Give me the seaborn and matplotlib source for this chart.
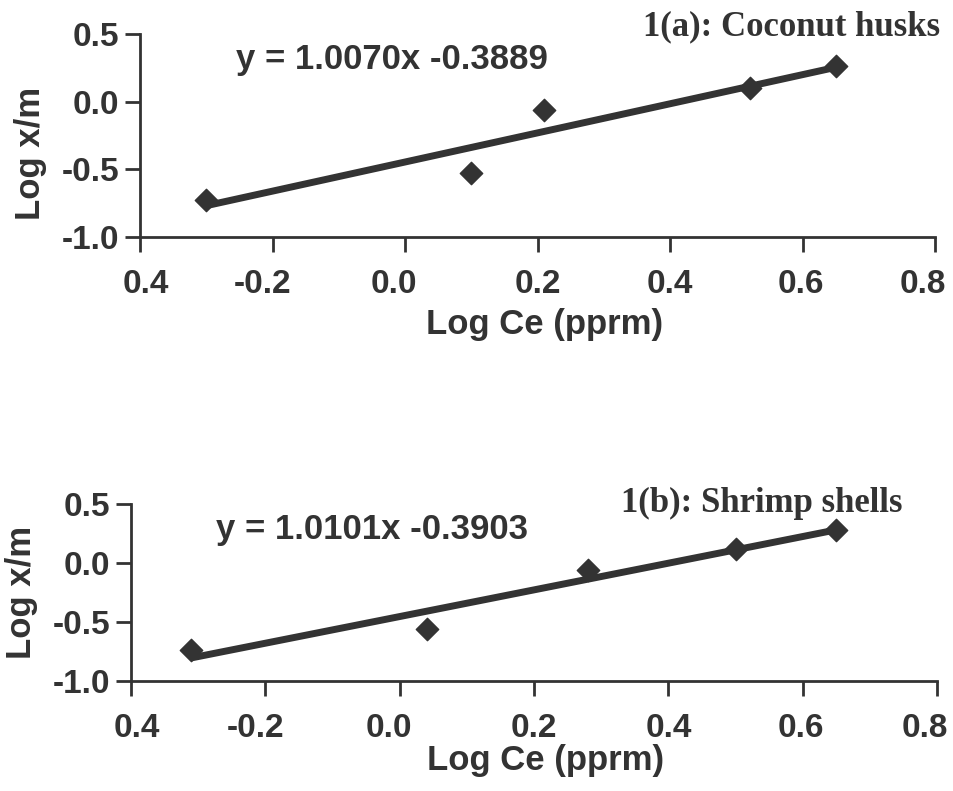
import matplotlib
matplotlib.use("Agg")
import matplotlib.pyplot as plt
import matplotlib.transforms as mtransforms
import seaborn as sns

# Freundlich plots: Log Ce vs Log x/m
coconut_logce = [-0.30, 0.10, 0.21, 0.52, 0.65]
coconut_logxm = [-0.73, -0.53, -0.06, 0.10, 0.26]
shrimp_logce = [-0.31, 0.04, 0.28, 0.50, 0.65]
shrimp_logxm = [-0.74, -0.56, -0.06, 0.12, 0.28]

x_ticks = [-0.4, -0.2, 0.0, 0.2, 0.4, 0.6, 0.8]
x_ticklabels = ["0.4", "-0.2", "0.0", "0.2", "0.4", "0.6", "0.8"]
y_ticks = [-1.0, -0.5, 0.0, 0.5]
y_ticklabels = ["-1.0", "-0.5", "0.0", "0.5"]

titles = ["1(a): Coconut husks", "1(b): Shrimp shells"]
equations = ["y = 1.0070x -0.3889", "y = 1.0101x -0.3903"]

sns.set_style("ticks")
plt.rcParams["font.family"] = ["Liberation Sans", "DejaVu Sans"]
plt.rcParams["font.weight"] = "bold"
plt.rcParams["axes.unicode_minus"] = False

ink = "#333333"
fig = plt.figure(figsize=(9.54, 7.91), dpi=100)
ax1 = fig.add_axes([0.1468, 0.7004, 0.8333, 0.2566])
ax2 = fig.add_axes([0.1373, 0.1391, 0.8449, 0.2238])

# axes, data, title, equation, equation pos, title pos, xlabel pos, ylabel pos
panels = [
    (ax1, coconut_logce, coconut_logxm, titles[0], equations[0],
     (0.121, 0.872), (1.006, 1.034), (0.509, -0.43), (-0.138, 0.41)),
    (ax2, shrimp_logce, shrimp_logxm, titles[1], equations[1],
     (0.105, 0.853), (0.957, 1.0), (0.514, -0.45), (-0.136, 0.50)),
]

# small horizontal nudges of x tick labels (pixels), as in the scan
nudges = [6, -10, -11, 0, 0, -2, -12]

for ax, xs, ys, title, eq, eq_pos, title_pos, xl_pos, yl_pos in panels:
    sns.regplot(x=xs, y=ys, ax=ax, ci=None, truncate=True, marker="D",
                scatter_kws={"s": 130, "color": ink, "alpha": 1, "zorder": 3},
                line_kws={"color": ink, "lw": 5, "solid_capstyle": "butt"})
    ax.set_xlim(-0.4, 0.8)
    ax.set_ylim(-1.0, 0.5)
    ax.set_xticks(x_ticks)
    ax.set_xticklabels(x_ticklabels)
    ax.set_yticks(y_ticks)
    ax.set_yticklabels(y_ticklabels)
    ax.tick_params(axis="both", colors=ink, labelsize=24, width=2, length=11)
    ax.tick_params(axis="x", pad=12)
    ax.tick_params(axis="y", pad=4)
    for lab in ax.get_xticklabels() + ax.get_yticklabels():
        lab.set_fontweight("bold")
    for lab, dx in zip(ax.get_xticklabels(), nudges):
        lab.set_transform(lab.get_transform() +
                          mtransforms.ScaledTranslation(dx / 100, 0, fig.dpi_scale_trans))
    sns.despine(ax=ax)
    for side in ["left", "bottom"]:
        ax.spines[side].set_linewidth(2)
        ax.spines[side].set_color(ink)
    ax.set_xlabel("Log Ce (pprm)", fontsize=25, fontweight="bold", color=ink)
    ax.set_ylabel("Log x/m", fontsize=25, fontweight="bold", color=ink)
    ax.xaxis.set_label_coords(*xl_pos)
    ax.yaxis.set_label_coords(*yl_pos)
    ax.xaxis.label.set_va("center")
    ax.yaxis.label.set_va("center")
    ax.text(eq_pos[0], eq_pos[1], eq, transform=ax.transAxes, fontsize=25,
            fontweight="bold", color=ink, ha="left", va="center")
    ax.text(title_pos[0], title_pos[1], title, transform=ax.transAxes, fontsize=25,
            fontweight="bold", color=ink, ha="right", va="center",
            family="Liberation Serif")

fig.savefig("out.png", dpi=100, facecolor="white")
